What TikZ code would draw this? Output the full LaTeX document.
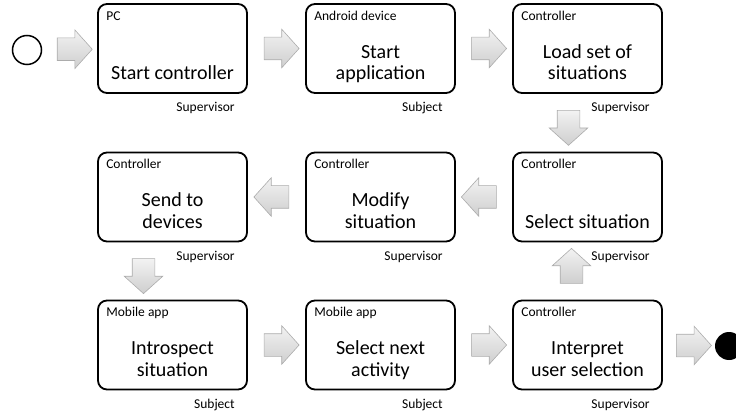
\documentclass[tikz,border=0pt]{standalone}
\usepackage{fontspec}
\setmainfont{Carlito}
\usetikzlibrary{shapes.arrows,calc}

\tikzset{
  stepbox/.style={draw, line width=1.8pt, rounded corners=9pt,
    minimum width=149pt, minimum height=89pt, inner sep=0pt},
  role/.style={font=\fontsize{13.5}{16}\selectfont, anchor=base west, inner sep=0pt},
  task/.style={font=\fontsize{20}{21.5}\selectfont, align=center, anchor=south,
    inner sep=0pt, text depth=0pt},
  owner/.style={font=\fontsize{13.5}{16}\selectfont, anchor=base east, inner sep=0pt},
  flow/.style={single arrow, minimum height=35pt, inner sep=11pt,
    single arrow head extend=8pt, single arrow tip angle=96,
    draw=gray!65, line width=0.6pt, top color=gray!10, bottom color=gray!38},
}

% one process step: box, role in the corner, task text, owner below
\newcommand{\procstep}[6]{%
  \node[stepbox] (#1) at (#2,#3) {};
  \node[role] (#1-role) at ($(#1.north west)+(9,17)$) {#4};
  \node[task] (#1-task) at ($(#1.south)+(0,-14)$) {#5};
  \node[owner] (#1-owner) at ($(#1.south east)+(-13,18)$) {#6};
}

\begin{document}
\begin{tikzpicture}[x=1pt, y=-1pt]
\useasboundingbox (0,0) rectangle (736,414);

% start and end events
\node[draw, circle, line width=1.5pt, minimum size=29pt, inner sep=0pt] (start) at (27,50) {};
\node[fill, circle, minimum size=28pt, inner sep=0pt] (finish) at (729,346) {};

% row 1
\procstep{startctl}{172.5}{48.5}{PC}{Start controller}{Supervisor}
\procstep{startapp}{380.5}{48.5}{Android device}{Start\\application}{Subject}
\procstep{loadset}{587.5}{48.5}{Controller}{Load set of\\situations}{Supervisor}

% row 2
\procstep{send}{172.5}{197}{Controller}{Send to\\devices}{Supervisor}
\procstep{modify}{380.5}{197}{Controller}{Modify\\situation}{Supervisor}
\procstep{select}{587.5}{197}{Controller}{Select situation}{Supervisor}

% row 3
\procstep{introspect}{172.5}{345}{Mobile app}{Introspect\\situation}{Subject}
\procstep{next}{380.5}{345}{Mobile app}{Select next\\activity}{Subject}
\procstep{interpret}{587.5}{345}{Controller}{Interpret\\user selection}{Supervisor}

% block arrows between the steps
\node[flow] (a0) at ($(start.east)!0.5!(startctl.west)$) {};
\node[flow] (a1) at ($(startctl.east)!0.5!(startapp.west)$) {};
\node[flow] (a2) at ($(startapp.east)!0.5!(loadset.west)$) {};
\node[flow, shape border rotate=270] (a3) at ($(loadset.south)!0.5!(select.north)+(-19,0)$) {};
\node[flow, shape border rotate=180] (a4) at ($(select.west)!0.5!(modify.east)$) {};
\node[flow, shape border rotate=180] (a5) at ($(modify.west)!0.5!(send.east)$) {};
\node[flow, shape border rotate=270] (a6) at ($(send.south)!0.5!(introspect.north)+(-29,0)$) {};
\node[flow] (a7) at ($(introspect.east)!0.5!(next.west)$) {};
\node[flow] (a8) at ($(next.east)!0.5!(interpret.west)$) {};
\node[flow, shape border rotate=90] (a9) at ($(interpret.north)!0.5!(select.south)+(-16,0)$) {};
\node[flow] (a10) at ($(interpret.east)!0.5!(finish.west)$) {};

\end{tikzpicture}
\end{document}
